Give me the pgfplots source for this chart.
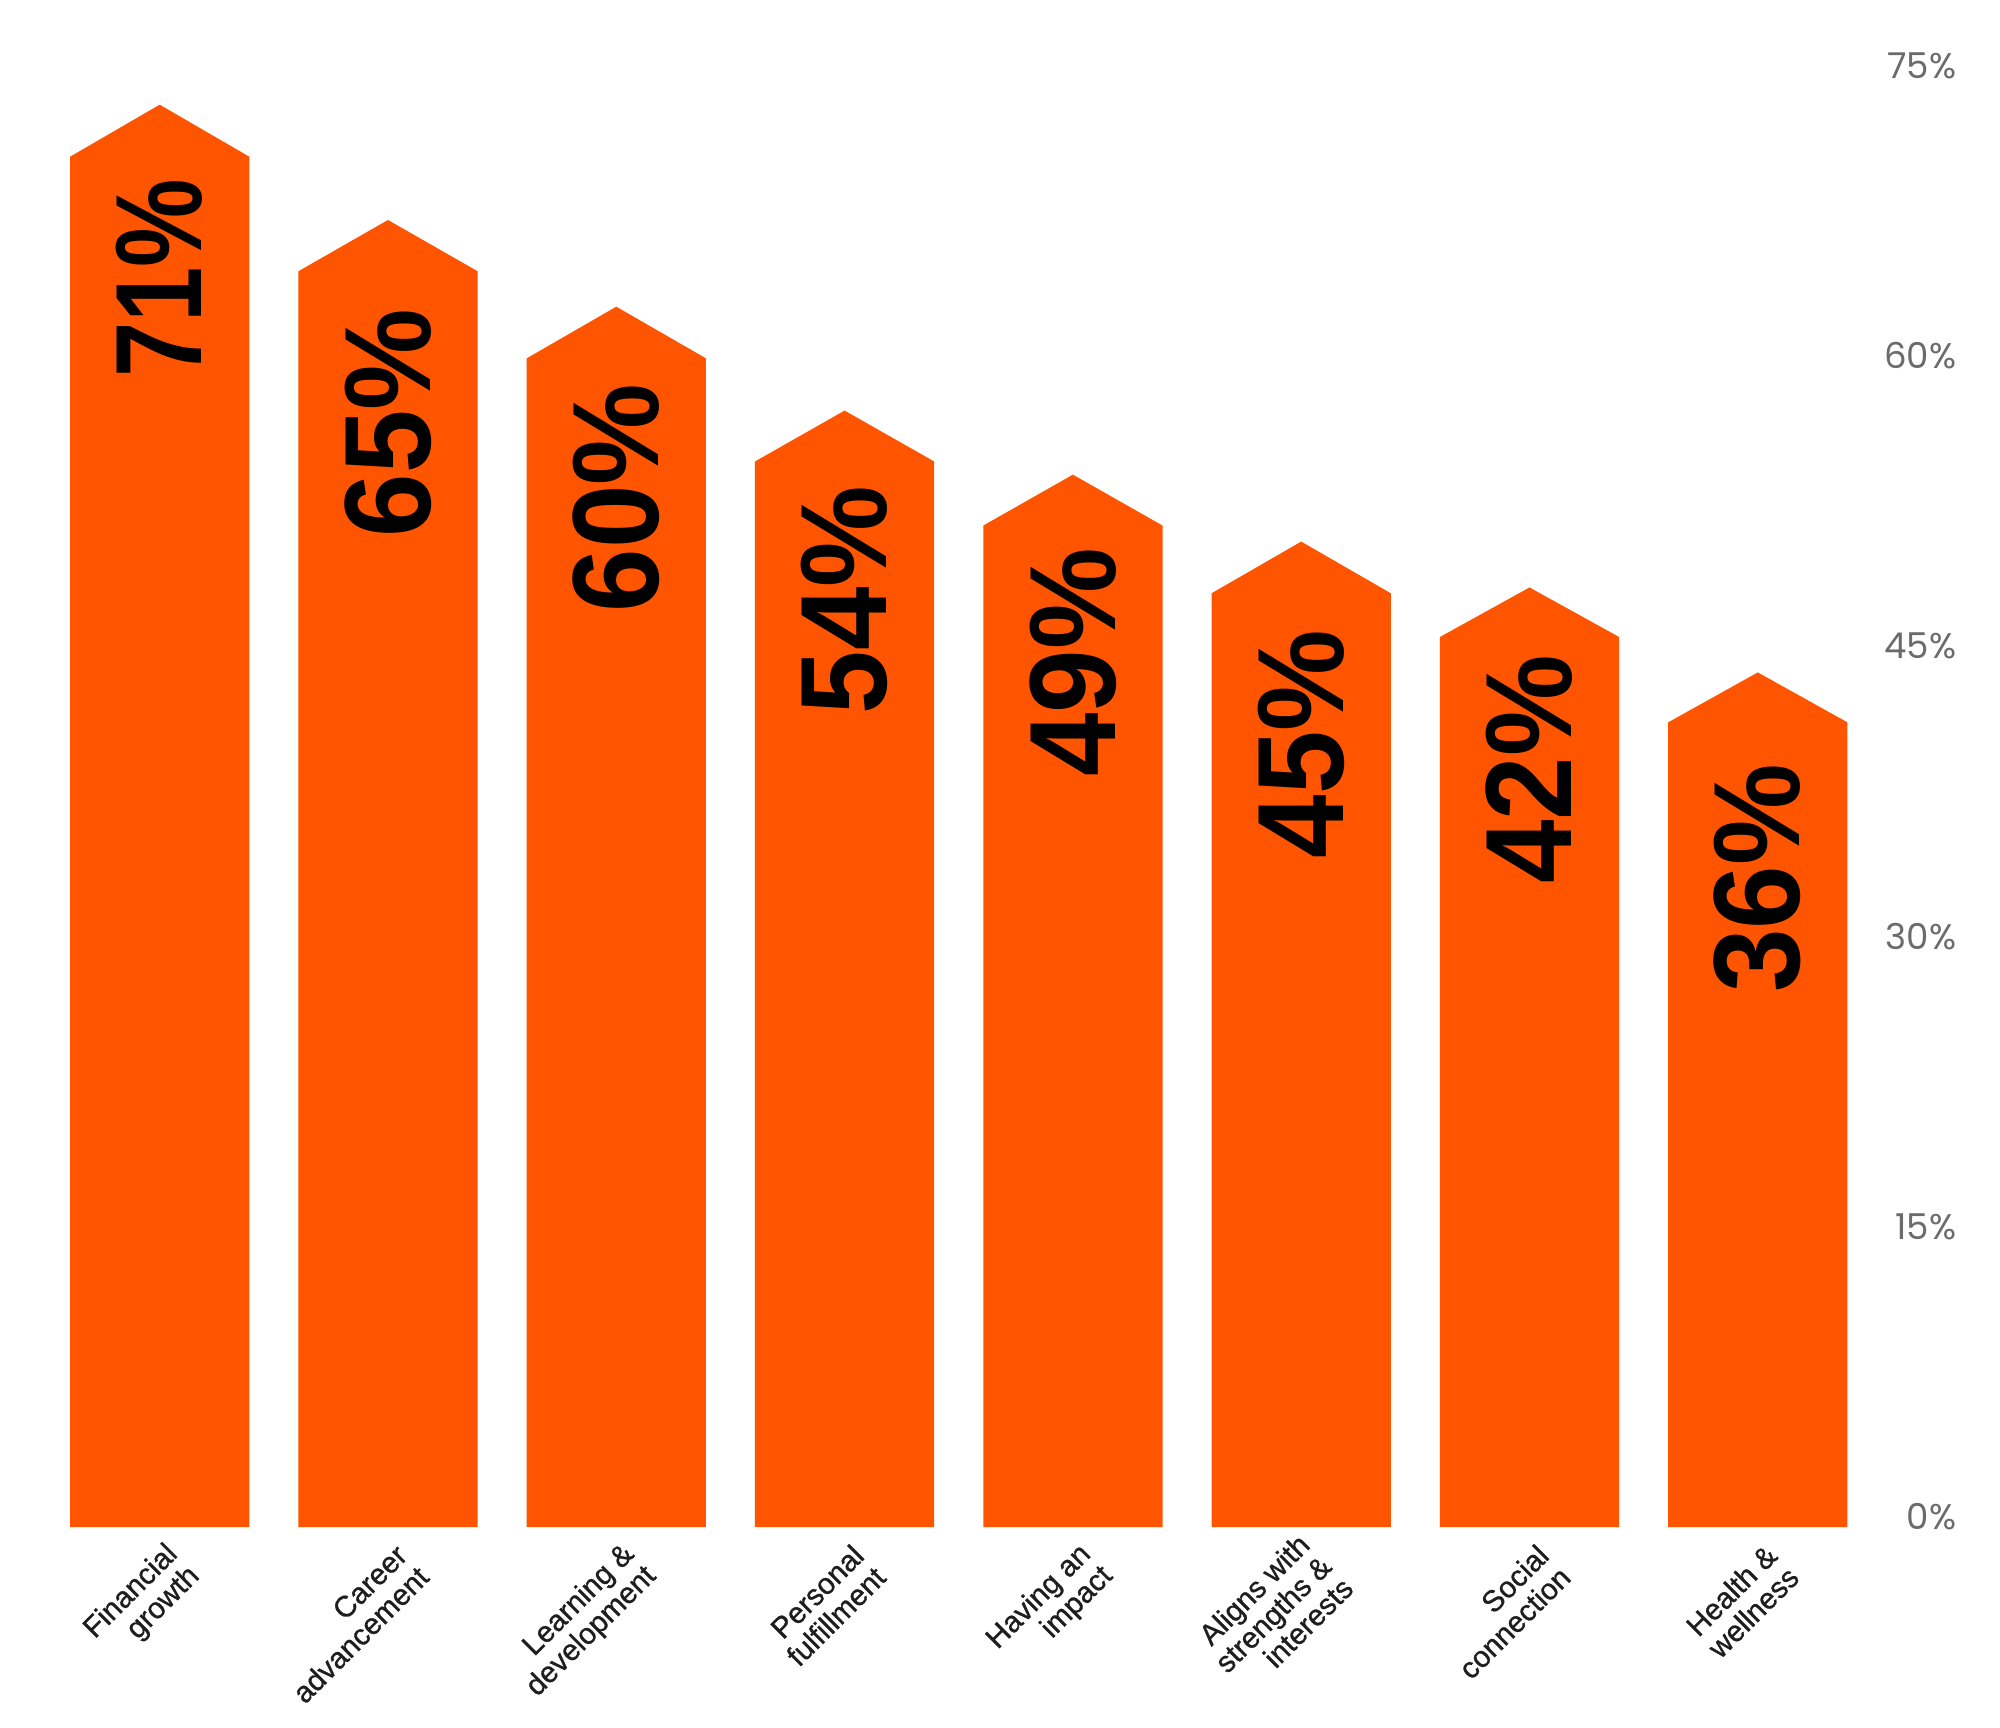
\documentclass[border=0pt]{standalone}
\usepackage{pgfplots}
\pgfplotsset{compat=1.18}
\usepackage{graphicx}
\usepackage{fontspec}
\setmainfont{Liberation Sans}
\newfontfamily\tickfont{Poppins}
\newfontfamily\catfont{Liberation Sans}[FakeBold=0.9]
\definecolor{barorange}{HTML}{FF5500}
\definecolor{tickgray}{HTML}{6B6B6B}
\definecolor{catblack}{HTML}{1E1E1E}
\newcommand{\barlabel}[4][0.93]{\node[rotate=90, anchor=east, inner sep=0pt, text=black,
  font=\bfseries\fontsize{30.7}{30.7}\selectfont] at (axis cs:#2,#3) {\scalebox{#1}[1]{#4\%}};}
\newcommand{\catlabel}[2]{\node[rotate=45, anchor=east, align=right, inner sep=0pt, text=catblack,
  font=\catfont\fontsize{7.4}{7.7}\selectfont] at (axis cs:#1+0.11,-2.25) {#2};}
\begin{document}
\begin{tikzpicture}
\begin{axis}[
  width=500pt, height=432pt, scale only axis,
  xmin=-0.6995, xmax=8.0609, ymin=-10.898, ymax=78.40,
  clip=false,
  axis line style={draw=none},
  tick style={draw=none},
  xtick=\empty,
  ytick={0,15,30,45,60,75},
  yticklabel pos=right,
  /pgf/number format/assume math mode=true,
  yticklabel={\pgfmathprintnumber{\tick}\%},
  yticklabel style={anchor=east, inner sep=0pt, xshift=-10.75pt,
    font=\tickfont\fontsize{8.9}{10}\selectfont, text=tickgray},
]
% bars: x centre, base, shoulder, tip (visual heights on the right-hand scale)
\addplot[fill=barorange, draw=none] coordinates {(-0.3925,-0.52) (-0.3925,70.30) (0,72.99) (0.3925,70.30) (0.3925,-0.52)} -- cycle;
\addplot[fill=barorange, draw=none] coordinates {(0.6075,-0.52) (0.6075,64.38) (1,67.03) (1.3925,64.38) (1.3925,-0.52)} -- cycle;
\addplot[fill=barorange, draw=none] coordinates {(1.6075,-0.52) (1.6075,59.88) (2,62.55) (2.3925,59.88) (2.3925,-0.52)} -- cycle;
\addplot[fill=barorange, draw=none] coordinates {(2.6075,-0.52) (2.6075,54.55) (3,57.18) (3.3925,54.55) (3.3925,-0.52)} -- cycle;
\addplot[fill=barorange, draw=none] coordinates {(3.6075,-0.52) (3.6075,51.24) (4,53.87) (4.3925,51.24) (4.3925,-0.52)} -- cycle;
\addplot[fill=barorange, draw=none] coordinates {(4.6075,-0.52) (4.6075,47.74) (5,50.41) (5.3925,47.74) (5.3925,-0.52)} -- cycle;
\addplot[fill=barorange, draw=none] coordinates {(5.6075,-0.52) (5.6075,45.48) (6,48.04) (6.3925,45.48) (6.3925,-0.52)} -- cycle;
\addplot[fill=barorange, draw=none] coordinates {(6.6075,-0.52) (6.6075,41.07) (7,43.65) (7.3925,41.07) (7.3925,-0.52)} -- cycle;
% value labels
\barlabel[0.81]{0}{69.21}{71}
\barlabel{1}{62.48}{65}
\barlabel{2}{58.61}{60}
\barlabel{3}{53.34}{54}
\barlabel{4}{50.12}{49}
\barlabel{5}{45.90}{45}
\barlabel{6}{44.58}{42}
\barlabel{7}{38.95}{36}
% category labels
\catlabel{0}{Financial\\growth}
\catlabel{1}{Career\\advancement}
\catlabel{2}{Learning \&\\development}
\catlabel{3}{Personal\\fulfillment}
\catlabel{4}{Having an\\impact}
\catlabel{5}{Aligns with\\strengths \&\\interests}
\catlabel{6}{Social\\connection}
\catlabel{7}{Health \&\\wellness}
\end{axis}
\pgfresetboundingbox
\path[use as bounding box] (current axis.south west) rectangle (current axis.north east);
\end{tikzpicture}
\end{document}
